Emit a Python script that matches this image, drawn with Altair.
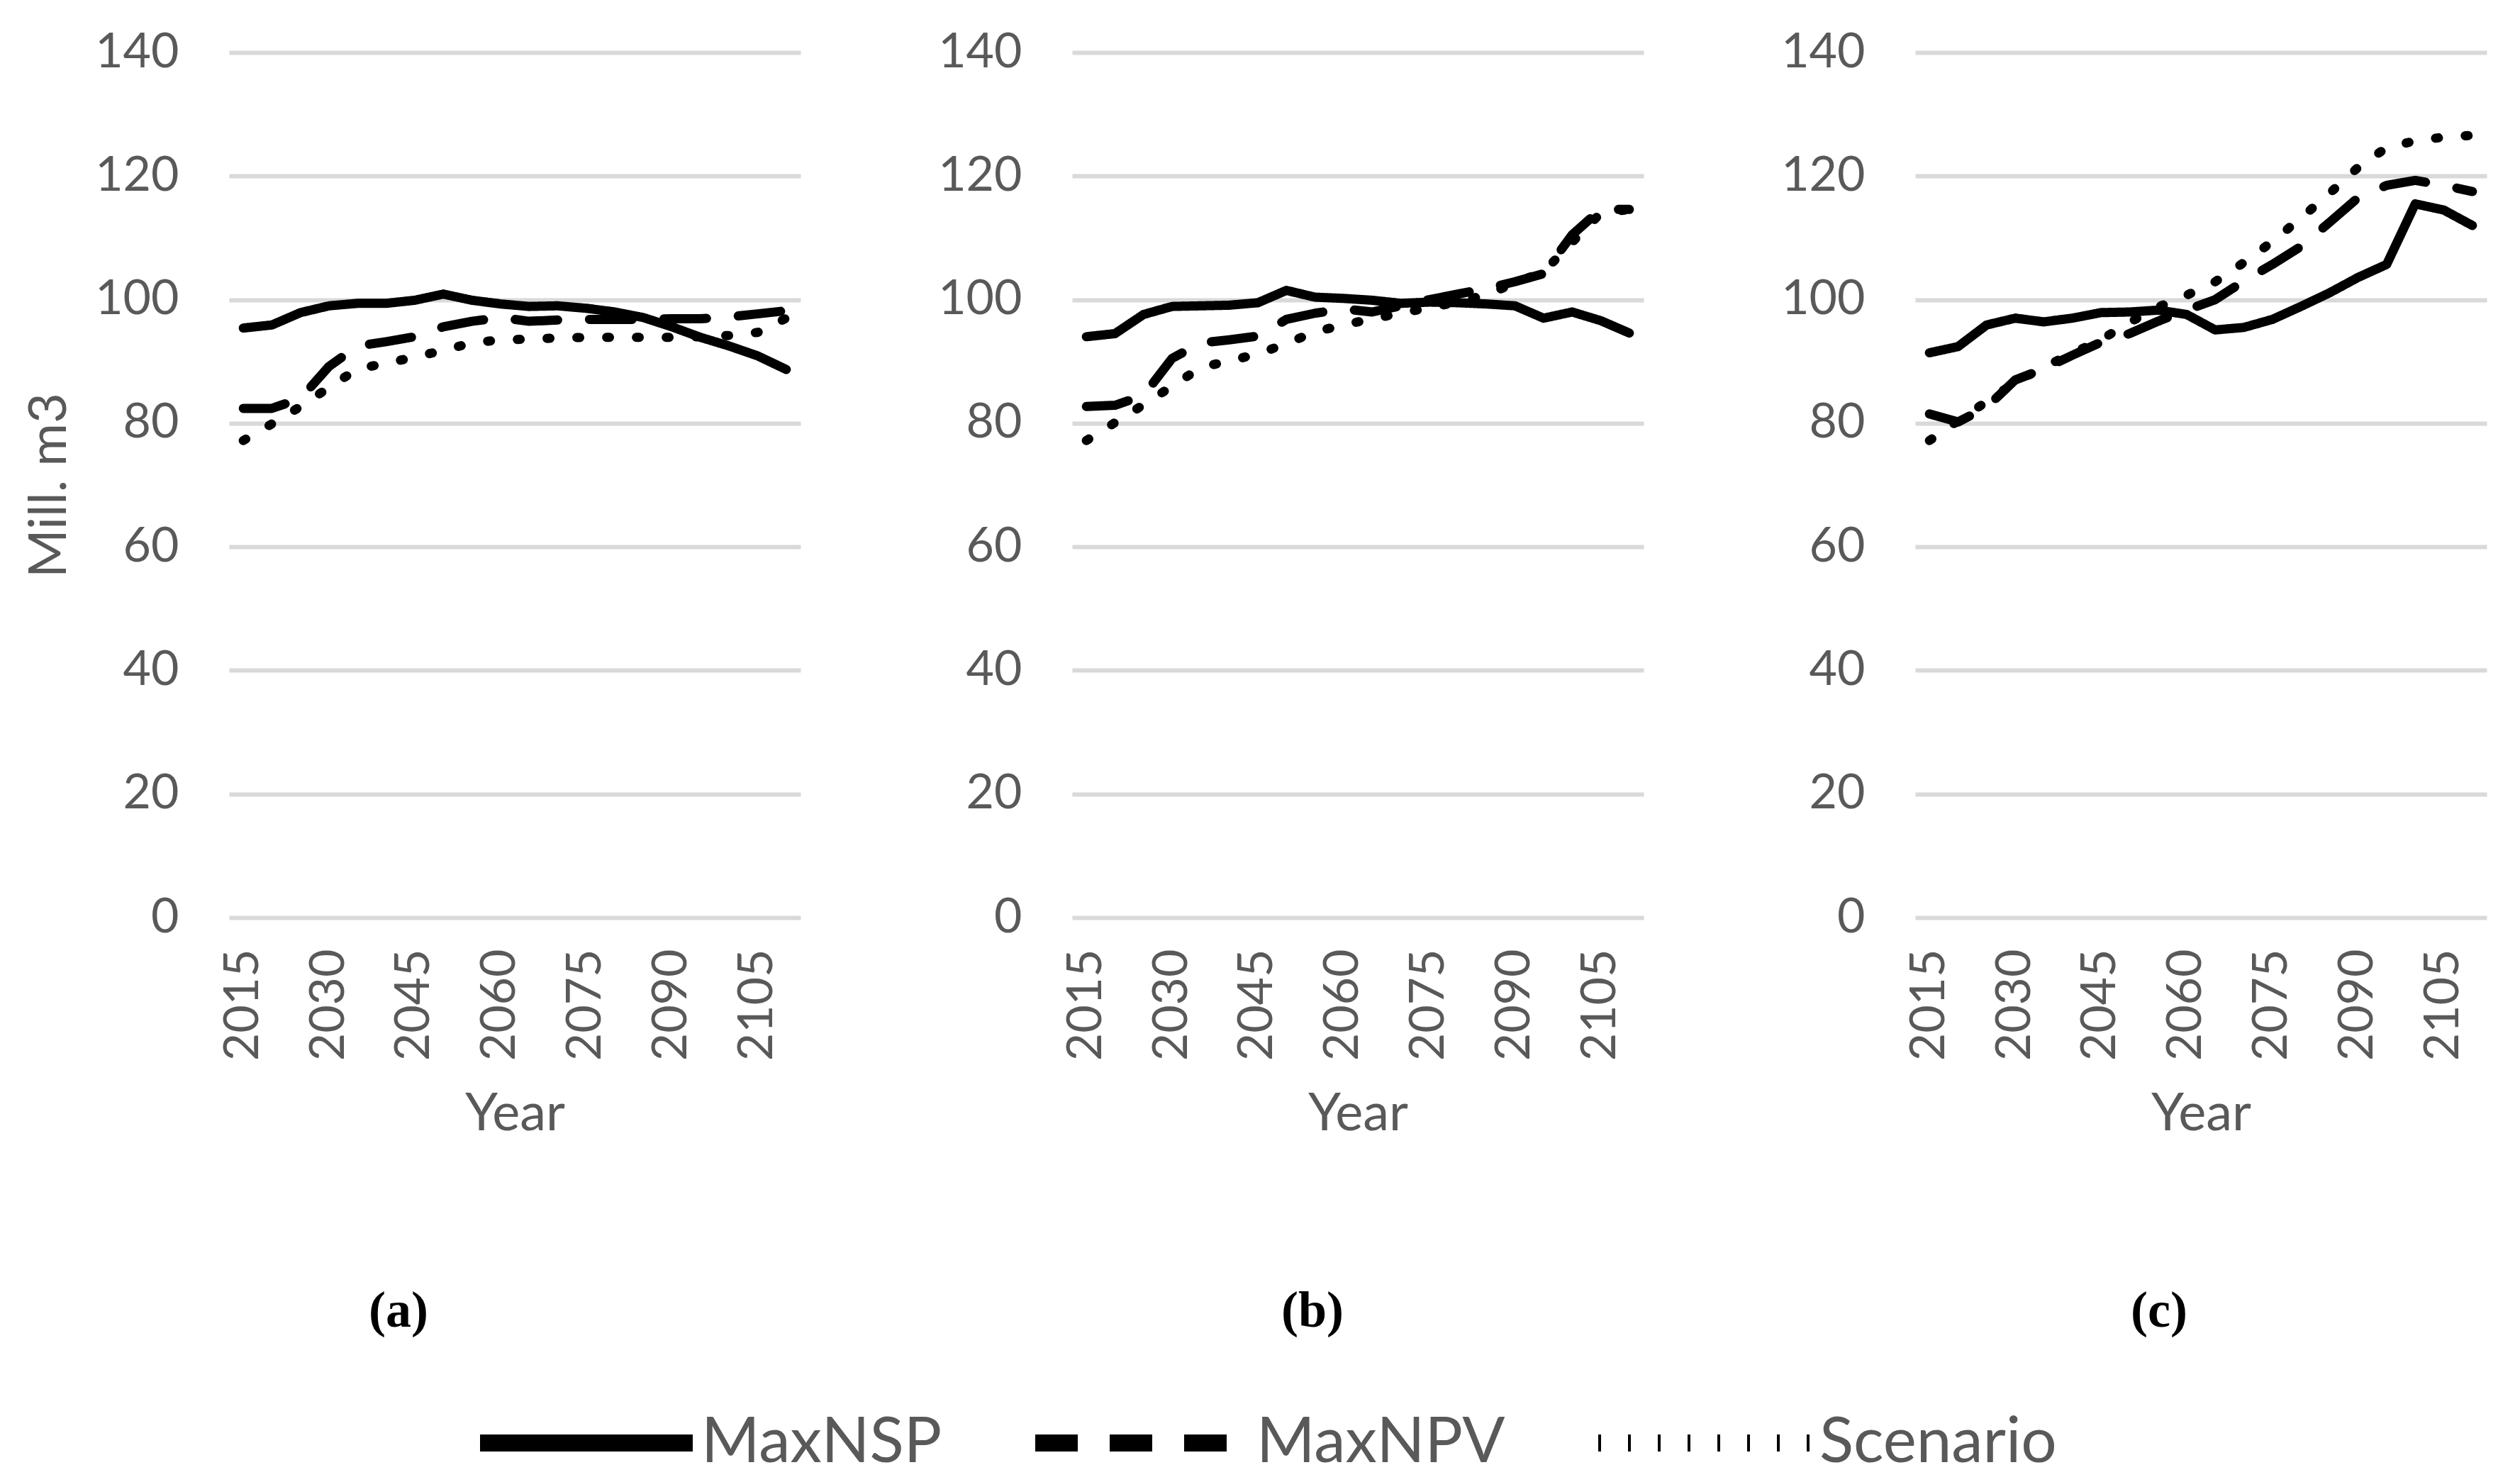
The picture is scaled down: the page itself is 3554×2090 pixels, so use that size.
import altair as alt
import pandas as pd

years = [2015, 2020, 2025, 2030, 2035, 2040, 2045, 2050, 2055, 2060,
         2065, 2070, 2075, 2080, 2085, 2090, 2095, 2100, 2105, 2110]
tick_years = [2015, 2030, 2045, 2060, 2075, 2090, 2105]
y_ticks = [0, 20, 40, 60, 80, 100, 120, 140]
series_names = ["MaxNSP", "MaxNPV", "Scenario"]
panel_labels = ["(a)", "(b)", "(c)"]

# Panel (a)
a_maxnsp = [95.4, 95.9, 97.9, 99.0, 99.4, 99.4, 99.9, 100.9, 99.9, 99.3,
            98.9, 99.0, 98.6, 98.0, 97.1, 95.6, 93.9, 92.5, 90.9, 88.7]
a_maxnpv = [82.4, 82.4, 84.0, 89.2, 92.5, 93.2, 94.0, 95.6, 96.5, 97.1,
            96.5, 96.7, 96.8, 96.8, 96.8, 96.9, 96.9, 97.2, 97.7, 98.2]
a_scenario = [77.2, 79.9, 82.7, 85.8, 88.8, 89.7, 90.7, 91.8, 93.0, 93.5,
              93.6, 93.8, 93.9, 93.9, 93.9, 93.9, 94.0, 94.2, 94.7, 97.0]
# Panel (b)
b_maxnsp = [94.0, 94.5, 97.6, 98.9, 99.0, 99.1, 99.5, 101.5, 100.4, 100.2,
            99.9, 99.4, 99.6, 99.5, 99.3, 99.0, 97.0, 98.0, 96.6, 94.6]
b_maxnpv = [82.7, 82.9, 84.5, 90.5, 93.0, 93.5, 94.1, 96.8, 97.8, 98.5,
            98.0, 99.0, 100.0, 100.9, 101.8, 102.9, 104.2, 110.5, 114.6, 114.6]
b_scenario = [77.2, 80.1, 83.0, 86.0, 89.0, 90.1, 91.2, 92.9, 94.8, 95.9,
              96.9, 97.8, 98.7, 99.6, 100.8, 102.7, 104.5, 109.3, 114.0, 114.6]
# Panel (c)
c_maxnsp = [91.4, 92.4, 95.9, 97.0, 96.4, 97.0, 97.9, 98.0, 98.3, 97.6,
            95.1, 95.5, 96.8, 98.9, 101.1, 103.6, 105.7, 115.5, 114.5, 112.0]
c_maxnpv = [81.5, 80.2, 82.6, 87.0, 88.8, 91.0, 93.1, 94.5, 96.5, 98.3,
            100.0, 103.0, 105.7, 108.6, 112.5, 116.5, 118.5, 119.3, 118.5, 117.5]
c_scenario = [77.2, 80.4, 83.5, 86.6, 89.1, 91.3, 93.5, 96.3, 98.8, 100.7,
              102.9, 106.0, 109.4, 113.2, 117.2, 121.4, 124.6, 125.7, 126.3, 126.6]

panel_series = {
    "(a)": [a_maxnsp, a_maxnpv, a_scenario],
    "(b)": [b_maxnsp, b_maxnpv, b_scenario],
    "(c)": [c_maxnsp, c_maxnpv, c_scenario],
}

rows = []
for p, lists in panel_series.items():
    for name, vals in zip(series_names, lists):
        for yr, v in zip(years, vals):
            rows.append({"panel": p, "year": yr, "series": name, "value": v})
df = pd.DataFrame(rows)

FONT = "Lato"
GREY = "#595959"
PW, PH = 806, 1220
title_dx = {"(a)": -164, "(b)": -64, "(c)": -59}


def make_panel(p, first):
    y_axis_kwargs = dict(values=y_ticks, grid=True, gridColor="#D9D9D9", gridWidth=6,
                         domain=False, ticks=False, labelPadding=71,
                         minExtent=200, maxExtent=200, labelFontSize=68)
    if first:
        y_axis = alt.Axis(title="Mill. m3", titlePadding=15, **y_axis_kwargs)
    else:
        y_axis = alt.Axis(title=None, **y_axis_kwargs)
    return (
        alt.Chart(df[df["panel"] == p])
        .mark_line(color="black", strokeWidth=13, strokeCap="round", strokeJoin="round")
        .encode(
            x=alt.X("year:Q",
                    scale=alt.Scale(domain=[2012.5, 2112.5], nice=False, zero=False),
                    axis=alt.Axis(values=tick_years, format="d", labelAngle=270,
                                  grid=False, domain=False, ticks=False, labelPadding=44,
                                  minExtent=205, maxExtent=205, labelFontSize=68,
                                  title="Year", titlePadding=36)),
            y=alt.Y("value:Q", scale=alt.Scale(domain=[0, 140], nice=False), axis=y_axis),
            strokeDash=alt.StrokeDash(
                "series:N",
                scale=alt.Scale(domain=series_names, range=[[1, 0], [60, 45], [4, 38]]),
                sort=series_names,
                legend=alt.Legend(orient="none", legendX=342, legendY=1799,
                                  direction="horizontal", title=None, symbolType="stroke",
                                  symbolSize=90000, symbolStrokeWidth=24,
                                  symbolStrokeColor="black", labelFontSize=89,
                                  labelFont=FONT, labelColor=GREY, labelOffset=0,
                                  columnPadding=83, labelLimit=0, padding=0),
            ),
            detail="series:N",
        )
        .properties(
            width=PW, height=PH,
            title=alt.TitleParams(text=p, orient="bottom", anchor="middle", frame="group",
                                  dx=title_dx[p], offset=206, font="Liberation Serif",
                                  fontSize=72, fontWeight="bold", color="black"),
        )
    )


chart = (
    alt.hconcat(make_panel("(a)", True), make_panel("(b)", False), make_panel("(c)", False),
                spacing=181)
    .resolve_scale(strokeDash="shared")
    .resolve_legend(strokeDash="shared")
    .properties(padding={"left": 24, "top": 31, "right": 0, "bottom": 0})
    .configure_view(stroke="transparent")
    .configure_axis(labelFont=FONT, labelColor=GREY, titleFont=FONT, titleColor=GREY,
                    titleFontSize=74, titleFontWeight="normal")
)

chart.save("out.html", embed_options={"renderer": "svg", "actions": False})
